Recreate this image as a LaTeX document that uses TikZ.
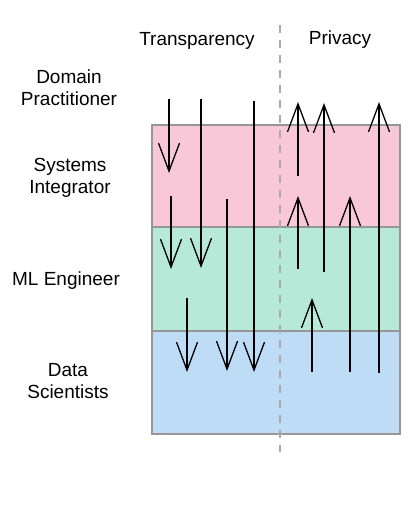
\documentclass[tikz,border=0pt]{standalone}
\usepackage{fontspec}
\setmainfont{Liberation Sans}
\usetikzlibrary{arrows.meta}
\definecolor{pinkband}{RGB}{248,200,216}
\definecolor{greenband}{RGB}{182,233,216}
\definecolor{blueband}{RGB}{190,220,246}
\definecolor{bandline}{RGB}{150,150,150}
\definecolor{divline}{RGB}{170,170,170}
\tikzset{
  band/.style={draw=bandline, line width=1.2pt},
  lbl/.style={font=\fontsize{19}{22}\selectfont, align=center, inner sep=0pt, anchor=center},
  flow/.style={line width=1.3pt, -{Straight Barb[length=28pt,width=21pt,line width=1.3pt]}},
  divider/.style={draw=divline, line width=1.2pt, dash pattern=on 8pt off 7pt}
}
\begin{document}
\begin{tikzpicture}[x=1pt,y=-1pt]
\useasboundingbox (0,0) rectangle (410,506);
% bands
\node[band, fill=blueband, minimum width=248pt, minimum height=103pt, inner sep=0pt] (ds) at (276,382.5) {};
\node[band, fill=greenband, minimum width=248pt, minimum height=104pt, inner sep=0pt] (ml) at (276,279) {};
\node[band, fill=pinkband, minimum width=248pt, minimum height=102pt, inner sep=0pt] (si) at (276,176) {};
% divider
\coordinate (dtop) at (280,25);
\coordinate (dbot) at (280,452);
\draw[divider] (dtop) -- (dbot);
% labels
\node[lbl] (tr) at (197,41) {Transparency};
\node[lbl] (pr) at (340,40) {Privacy};
\node[lbl] (dp) at (69,88) {Domain\\Practitioner};
\node[lbl] (sil) at (70,178) {Systems\\Integrator};
\node[lbl] (mll) at (66,281) {ML Engineer};
\node[lbl] (dsl) at (68,381) {Data\\Scientists};
% transparency arrows (downward)
\coordinate (a1s) at (169,99);  \coordinate (a1e) at (169,173);
\coordinate (a2s) at (201,99);  \coordinate (a2e) at (201,268);
\coordinate (a3s) at (254,101); \coordinate (a3e) at (254,372);
\coordinate (a4s) at (171,196); \coordinate (a4e) at (171,269);
\coordinate (a5s) at (227,199); \coordinate (a5e) at (227,371);
\coordinate (a6s) at (187,298); \coordinate (a6e) at (187,372);
\draw[flow] (a1s) -- (a1e);
\draw[flow] (a2s) -- (a2e);
\draw[flow] (a3s) -- (a3e);
\draw[flow] (a4s) -- (a4e);
\draw[flow] (a5s) -- (a5e);
\draw[flow] (a6s) -- (a6e);
% privacy arrows (upward)
\coordinate (b1s) at (298,176); \coordinate (b1e) at (298,102);
\coordinate (b2s) at (324,272); \coordinate (b2e) at (324,103);
\coordinate (b3s) at (379,373); \coordinate (b3e) at (379,102);
\coordinate (b4s) at (298,269); \coordinate (b4e) at (298,196);
\coordinate (b5s) at (350,372); \coordinate (b5e) at (350,196);
\coordinate (b6s) at (312,372); \coordinate (b6e) at (312,298);
\draw[flow] (b1s) -- (b1e);
\draw[flow] (b2s) -- (b2e);
\draw[flow] (b3s) -- (b3e);
\draw[flow] (b4s) -- (b4e);
\draw[flow] (b5s) -- (b5e);
\draw[flow] (b6s) -- (b6e);
\end{tikzpicture}
\end{document}
